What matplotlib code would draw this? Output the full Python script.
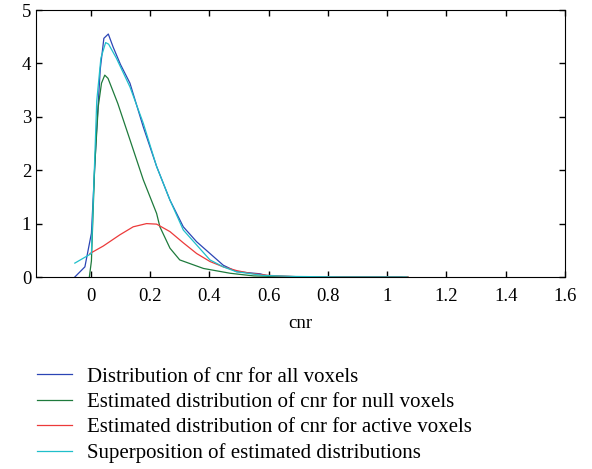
import numpy as np
import matplotlib
matplotlib.use("Agg")
import matplotlib.pyplot as plt

# values
x_all = [-0.054, -0.02, 0.002, 0.019, 0.032, 0.044, 0.059, 0.075, 0.1, 0.132, 0.177, 0.222,
         0.267, 0.312, 0.357, 0.402, 0.447, 0.492, 0.571, 0.6, 0.7, 0.85, 1.05]
y_all = [0.0, 0.19, 0.82, 2.7, 3.9, 4.47, 4.55, 4.31, 3.98, 3.63, 2.81, 2.07,
         1.44, 0.94, 0.66, 0.44, 0.22, 0.10, 0.06, 0.015, 0.005, 0.0, 0.0]

x_null = [-0.005, 0.002, 0.013, 0.025, 0.036, 0.047, 0.058, 0.091, 0.132, 0.177,
          0.222, 0.233, 0.267, 0.30, 0.38, 0.47, 0.55, 0.7, 1.07]
y_null = [0.0, 0.3, 2.07, 3.19, 3.63, 3.78, 3.72, 3.25, 2.57, 1.82,
          1.19, 0.94, 0.54, 0.32, 0.16, 0.07, 0.02, 0.0, 0.0]

x_active = [-0.003, 0.042, 0.098, 0.143, 0.188, 0.222, 0.267, 0.312, 0.357, 0.402,
            0.447, 0.492, 0.537, 0.6, 0.7, 0.85, 1.07]
y_active = [0.44, 0.58, 0.79, 0.94, 1.0, 0.99, 0.85, 0.64, 0.44, 0.29,
            0.19, 0.12, 0.07, 0.03, 0.005, 0.0, 0.0]

x_sum = [-0.054, 0.002, 0.02, 0.034, 0.05, 0.06, 0.086, 0.132, 0.177, 0.222,
         0.267, 0.312, 0.357, 0.402, 0.447, 0.49, 0.58, 0.69, 0.85, 1.067]
y_sum = [0.26, 0.44, 3.3, 4.1, 4.39, 4.36, 4.1, 3.56, 2.88, 2.07,
         1.44, 0.88, 0.6, 0.32, 0.19, 0.1, 0.03, 0.01, 0.0, 0.0]

labels = ["Distribution of cnr for all voxels",
          "Estimated distribution of cnr for null voxels",
          "Estimated distribution of cnr for active voxels",
          "Superposition of estimated distributions"]

plt.rcParams["font.family"] = ["Liberation Serif", "DejaVu Serif"]
plt.rcParams["font.size"] = 13.5

fig = plt.figure(figsize=(5.92, 4.69), dpi=100)
ax = fig.add_axes([36 / 592, 1 - 277 / 469, 529 / 592, 267 / 469])

ax.plot(x_all, y_all, color="#2b45b5", lw=0.9, label=labels[0])
ax.plot(x_null, y_null, color="#1e7a3c", lw=0.9, label=labels[1])
ax.plot(x_active, y_active, color="#ec3a3a", lw=0.9, label=labels[2])
ax.plot(x_sum, y_sum, color="#1fbfca", lw=0.9, label=labels[3])

ax.set_xlim(-0.185, 1.6)
ax.set_ylim(0, 5)
ax.set_xticks(np.arange(0, 1.61, 0.2))
ax.set_xticklabels(["0", "0.2", "0.4", "0.6", "0.8", "1", "1.2", "1.4", "1.6"])
ax.set_yticks(range(6))
ax.tick_params(direction="in", top=True, right=True, length=4, width=1)
ax.tick_params(axis="x", pad=8)
ax.set_xlabel("cnr", labelpad=7)

fig.legend(loc="upper left", bbox_to_anchor=(37 / 592, 1 - 367 / 469),
           frameon=False, borderpad=0, borderaxespad=0, fontsize=15,
           handlelength=1.68, handletextpad=0.72, labelspacing=0.28)

fig.savefig("out.png", dpi=100)
